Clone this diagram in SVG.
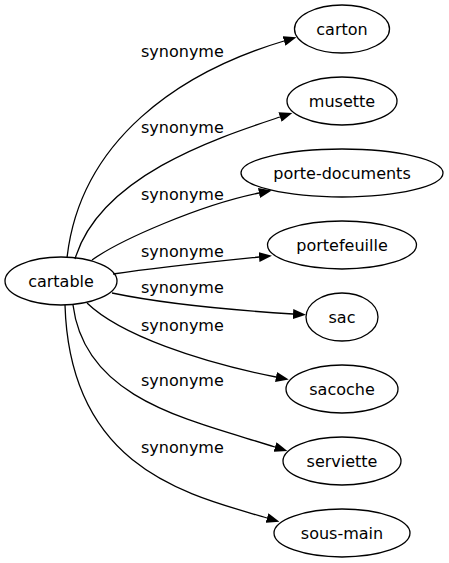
<svg xmlns="http://www.w3.org/2000/svg" width="449" height="563" viewBox="0 0 449 563">
<style>
.node ellipse{fill:none;stroke:#000;stroke-width:1.3}
.node text{font-family:"DejaVu Sans",sans-serif;font-size:16px;fill:#000;text-anchor:middle}
.edge path{fill:none;stroke:#000;stroke-width:1.3}
.lbl{font-family:"DejaVu Sans",sans-serif;font-size:16px;fill:#000}
</style>
<defs>
<marker id="arr" viewBox="0 0 13 10" refX="0" refY="5" markerWidth="13" markerHeight="10" markerUnits="userSpaceOnUse" orient="auto">
<path d="M0,0 L13,5 L0,10 z" fill="#000"/>
</marker>
</defs>
<rect width="449" height="563" fill="#fff"/>
<g id="edges" class="edge">
<path d="M67,258 C80,140 180,72 284,41" marker-end="url(#arr)"/>
<path d="M75,259 C100,175 220,137 280,117" marker-end="url(#arr)"/>
<path d="M92,260 C120,240 200,205 259,193" marker-end="url(#arr)"/>
<path d="M113,274 C160,267 210,262 259,257" marker-end="url(#arr)"/>
<path d="M112,293 C160,303 230,310 293,314" marker-end="url(#arr)"/>
<path d="M87,303 C120,335 200,362 276,377" marker-end="url(#arr)"/>
<path d="M73,305 C85,400 190,420 275,447" marker-end="url(#arr)"/>
<path d="M65,305 C70,470 190,495 267,518" marker-end="url(#arr)"/>
<text class="lbl" x="141" y="57">synonyme</text>
<text class="lbl" x="141" y="133">synonyme</text>
<text class="lbl" x="141" y="200">synonyme</text>
<text class="lbl" x="141" y="257">synonyme</text>
<text class="lbl" x="141" y="293">synonyme</text>
<text class="lbl" x="141" y="331">synonyme</text>
<text class="lbl" x="141" y="386">synonyme</text>
<text class="lbl" x="141" y="453">synonyme</text>
</g>
<g id="cartable" class="node"><ellipse cx="61" cy="281" rx="56" ry="24"/><text x="61" y="286.5">cartable</text></g>
<g id="carton" class="node"><ellipse cx="342" cy="29" rx="47.5" ry="24"/><text x="342" y="34.5">carton</text></g>
<g id="musette" class="node"><ellipse cx="342" cy="101" rx="55" ry="24"/><text x="342" y="106.5">musette</text></g>
<g id="porte-documents" class="node"><ellipse cx="342" cy="173" rx="101" ry="24"/><text x="342" y="178.5">porte-documents</text></g>
<g id="portefeuille" class="node"><ellipse cx="342" cy="245" rx="74.5" ry="24"/><text x="342" y="250.5">portefeuille</text></g>
<g id="sac" class="node"><ellipse cx="342" cy="317" rx="36" ry="24"/><text x="342" y="322.5">sac</text></g>
<g id="sacoche" class="node"><ellipse cx="342" cy="389" rx="56" ry="24"/><text x="342" y="394.5">sacoche</text></g>
<g id="serviette" class="node"><ellipse cx="342" cy="461" rx="59" ry="24"/><text x="342" y="466.5">serviette</text></g>
<g id="sous-main" class="node"><ellipse cx="342" cy="533" rx="68" ry="24"/><text x="342" y="538.5">sous-main</text></g>
</svg>
